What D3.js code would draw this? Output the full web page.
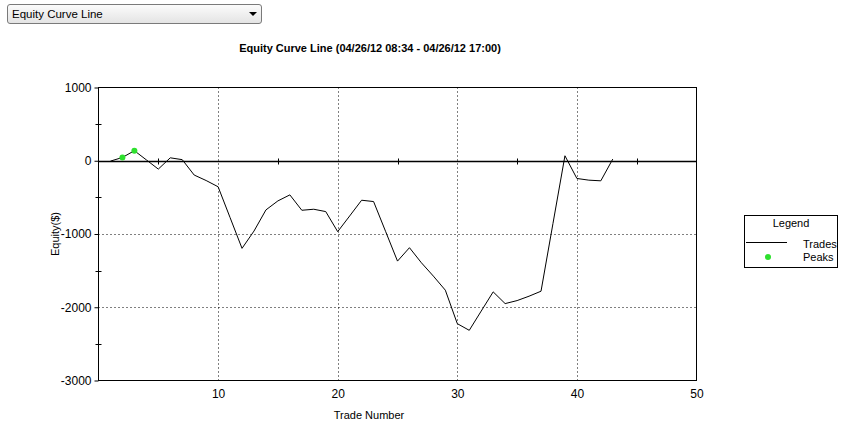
<!DOCTYPE html>
<html lang="en">
<head>
    <meta charset="UTF-8">
    <title>Equity Curve Line</title>
    <script src="https://cdn.jsdelivr.net/npm/d3@7/dist/d3.min.js"></script>
    <style>
        body {
            margin: 0;
            background: #fff;
            font-family: "Liberation Sans", Arial, sans-serif;
        }
        #picker {
            position: absolute;
            left: 7px;
            top: 4px;
            width: 249px;
            height: 18px;
            border: 1px solid #7a7a7a;
            border-radius: 3px;
            background: linear-gradient(#fbfbfb, #e4e4e4);
            font-size: 11.5px;
            line-height: 18px;
            padding-left: 4px;
            color: #000;
        }
        #picker .arrow {
            position: absolute;
            right: 4px;
            top: 7px;
            width: 0;
            height: 0;
            border-left: 4px solid transparent;
            border-right: 4px solid transparent;
            border-top: 4px solid #000;
        }
        svg text {
            font-family: "Liberation Sans", Arial, sans-serif;
        }
    </style>
</head>
<body>
    <div id="picker">Equity Curve Line<div class="arrow"></div></div>
    <script>
        // trade numbers and equity
        const trades = d3.range(1, 44);
        const equity = [
            -5, 45, 137, 12, -114, 40, 15, -195, -270, -355,
            -775, -1196, -960, -671, -548, -466, -676, -662, -694, -968,
            -754, -539, -557, -963, -1370, -1187, -1393, -1575, -1767, -2224,
            -2315, -2052, -1790, -1950, -1909, -1849, -1781, -856, 68, -242,
            -265, -274, 23
        ];
        const peakTrades = [2, 3];
        const peakValues = [45, 137];

        const xTicks = [10, 20, 30, 40, 50];
        const xMinor = [5, 15, 25, 35, 45];
        const yTicks = [1000, 0, -1000, -2000, -3000];
        const yMinor = [500, -500, -1500, -2500];
        const xGrid = [10, 20, 30, 40];
        const yGrid = [-1000, -2000];

        const title = "Equity Curve Line (04/26/12 08:34 - 04/26/12 17:00)";

        const width = 842, height = 448;
        const svg = d3.select("body").append("svg")
            .attr("width", width)
            .attr("height", height)
            .style("display", "block");

        const x = d3.scaleLinear().domain([0, 50]).range([98.5, 696.5]);
        const y = d3.scaleLinear().domain([-3000, 1000]).range([380.5, 87.5]);

        svg.append("text")
            .attr("x", 370)
            .attr("y", 52)
            .attr("text-anchor", "middle")
            .attr("font-size", 11)
            .attr("font-weight", "bold")
            .text(title);

        // dotted grid
        svg.append("g").selectAll("line")
            .data(xGrid)
            .enter().append("line")
            .attr("x1", d => Math.round(x(d)) + 0.5)
            .attr("x2", d => Math.round(x(d)) + 0.5)
            .attr("y1", y(1000))
            .attr("y2", y(-3000))
            .attr("stroke", "#000")
            .attr("stroke-dasharray", "1,3");

        svg.append("g").selectAll("line")
            .data(yGrid)
            .enter().append("line")
            .attr("x1", x(0))
            .attr("x2", x(50))
            .attr("y1", d => Math.round(y(d)) + 0.5)
            .attr("y2", d => Math.round(y(d)) + 0.5)
            .attr("stroke", "#000")
            .attr("stroke-dasharray", "1,3");

        // frame
        svg.append("rect")
            .attr("x", x(0))
            .attr("y", y(1000))
            .attr("width", x(50) - x(0))
            .attr("height", y(-3000) - y(1000))
            .attr("fill", "none")
            .attr("stroke", "#000");

        // left axis, major ticks point out, minor ticks cross
        const yAxis = d3.axisLeft(y)
            .tickValues(yTicks)
            .tickSize(4)
            .tickPadding(3)
            .tickFormat(d => String(d));
        const ya = svg.append("g")
            .attr("transform", `translate(${x(0)},0)`)
            .call(yAxis);
        ya.select(".domain").remove();
        ya.selectAll("text").attr("font-size", 12).attr("font-family", "Liberation Sans, Arial, sans-serif");

        svg.append("g").selectAll("line")
            .data(yMinor)
            .enter().append("line")
            .attr("x1", x(0) - 3)
            .attr("x2", x(0) + 3)
            .attr("y1", d => Math.round(y(d)) + 0.5)
            .attr("y2", d => Math.round(y(d)) + 0.5)
            .attr("stroke", "#000");

        // zero line acts as x axis
        const zero = Math.round(y(0)) + 0.5;
        svg.append("line")
            .attr("x1", x(0))
            .attr("x2", x(50))
            .attr("y1", zero)
            .attr("y2", zero)
            .attr("stroke", "#000")
            .attr("stroke-width", 1.3);

        svg.append("g").selectAll("line")
            .data(xMinor)
            .enter().append("line")
            .attr("x1", d => Math.round(x(d)) + 0.5)
            .attr("x2", d => Math.round(x(d)) + 0.5)
            .attr("y1", zero - 3)
            .attr("y2", zero + 3)
            .attr("stroke", "#000");

        // bottom labels
        const xAxis = d3.axisBottom(x)
            .tickValues(xTicks)
            .tickSize(0)
            .tickPadding(9);
        const xa = svg.append("g")
            .attr("transform", `translate(0,${y(-3000)})`)
            .call(xAxis);
        xa.select(".domain").remove();
        xa.selectAll("text").attr("font-size", 12).attr("font-family", "Liberation Sans, Arial, sans-serif");

        svg.append("text")
            .attr("x", 369)
            .attr("y", 419)
            .attr("text-anchor", "middle")
            .attr("font-size", 11)
            .text("Trade Number");

        svg.append("text")
            .attr("transform", `translate(59,234) rotate(-90)`)
            .attr("text-anchor", "middle")
            .attr("font-size", 11)
            .text("Equity($)");

        // equity line
        const line = d3.line()
            .x((d, i) => x(trades[i]))
            .y(d => y(d));

        svg.append("path")
            .datum(equity)
            .attr("d", line)
            .attr("fill", "none")
            .attr("stroke", "#000")
            .attr("stroke-width", 1);

        svg.append("g").selectAll("circle")
            .data(peakValues)
            .enter().append("circle")
            .attr("cx", (d, i) => x(peakTrades[i]))
            .attr("cy", d => y(d))
            .attr("r", 3)
            .attr("fill", "#2ee02e");

        // legend
        const legend = svg.append("g").attr("transform", "translate(744,215)");
        legend.append("rect")
            .attr("x", 0.5)
            .attr("y", 0.5)
            .attr("width", 93)
            .attr("height", 52)
            .attr("fill", "#fff")
            .attr("stroke", "#000");
        legend.append("text")
            .attr("x", 47)
            .attr("y", 12)
            .attr("text-anchor", "middle")
            .attr("font-size", 11)
            .text("Legend");
        legend.append("line")
            .attr("x1", 2)
            .attr("x2", 43)
            .attr("y1", 27.5)
            .attr("y2", 27.5)
            .attr("stroke", "#000");
        legend.append("text")
            .attr("x", 59)
            .attr("y", 33)
            .attr("font-size", 11)
            .text("Trades");
        legend.append("circle")
            .attr("cx", 24)
            .attr("cy", 42)
            .attr("r", 3)
            .attr("fill", "#2ee02e");
        legend.append("text")
            .attr("x", 59)
            .attr("y", 46)
            .attr("font-size", 11)
            .text("Peaks");
    </script>
</body>
</html>
